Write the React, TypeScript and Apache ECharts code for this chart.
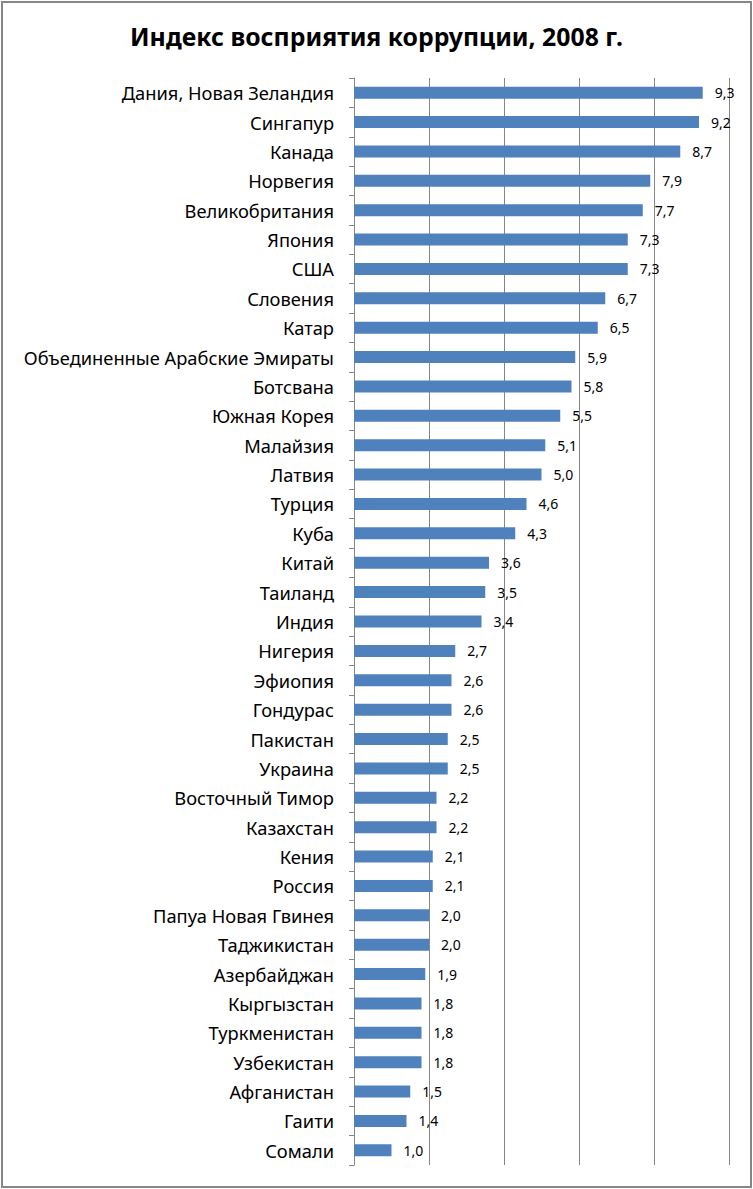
import React, { useEffect, useRef } from "react";
import * as echarts from "echarts";

const categories = [
  "Дания, Новая Зеландия", "Сингапур", "Канада", "Норвегия", "Великобритания", "Япония", "США",
  "Словения", "Катар", "Объединенные Арабские Эмираты", "Ботсвана", "Южная Корея", "Малайзия",
  "Латвия", "Турция", "Куба", "Китай", "Таиланд", "Индия", "Нигерия", "Эфиопия", "Гондурас",
  "Пакистан", "Украина", "Восточный Тимор", "Казахстан", "Кения", "Россия", "Папуа Новая Гвинея",
  "Таджикистан", "Азербайджан", "Кыргызстан", "Туркменистан", "Узбекистан", "Афганистан", "Гаити", "Сомали",
];
const values = [
  9.3, 9.2, 8.7, 7.9, 7.7, 7.3, 7.3, 6.7, 6.5, 5.9, 5.8, 5.5, 5.1, 5.0, 4.6, 4.3, 3.6, 3.5, 3.4,
  2.7, 2.6, 2.6, 2.5, 2.5, 2.2, 2.2, 2.1, 2.1, 2.0, 2.0, 1.9, 1.8, 1.8, 1.8, 1.5, 1.4, 1.0,
];
const title = "Индекс восприятия коррупции, 2008 г.";

export default function App() {
  const ref = useRef<HTMLDivElement>(null);
  useEffect(() => {
    const chart = echarts.init(ref.current!, null, { renderer: "svg" });
    const font = "'Noto Sans', 'Open Sans', sans-serif";
    chart.setOption({
      animation: false,
      backgroundColor: "#fff",
      title: {
        text: title,
        left: "center",
        top: 18,
        textStyle: { fontFamily: font, fontSize: 24.8, fontWeight: "bold", color: "#000" },
      },
      grid: { left: 354, right: 24, top: 78, bottom: 24, containLabel: false },
      xAxis: {
        type: "value",
        min: 0,
        max: 10,
        interval: 2,
        axisLabel: { show: false },
        axisLine: { show: false },
        axisTick: { show: false },
        splitLine: { show: true, lineStyle: { color: "#868686", width: 1 } },
      },
      yAxis: {
        type: "category",
        inverse: true,
        data: categories,
        axisLine: { show: true, lineStyle: { color: "#868686", width: 1 } },
        axisTick: { show: true, length: 5, lineStyle: { color: "#868686" } },
        axisLabel: { fontFamily: font, fontSize: 18.3, color: "#000", margin: 20 },
      },
      series: [
        {
          type: "bar",
          data: values,
          barWidth: 12,
          itemStyle: { color: "#4F81BD" },
          label: {
            show: true,
            position: "right",
            distance: 12,
            fontFamily: font,
            fontSize: 14,
            color: "#000",
            formatter: (p: any) => p.value.toFixed(1).replace(".", ","),
          },
        },
      ],
      graphic: [
        {
          type: "rect",
          shape: { x: 2, y: 2, width: 749, height: 1185 },
          style: { fill: "none", stroke: "#868686", lineWidth: 2 },
          silent: true,
        },
      ],
    });
    return () => chart.dispose();
  }, []);
  return (
    <div
      ref={ref}
      style={{ position: "fixed", left: 0, top: 0, width: 753, height: 1189 }}
    />
  );
}
